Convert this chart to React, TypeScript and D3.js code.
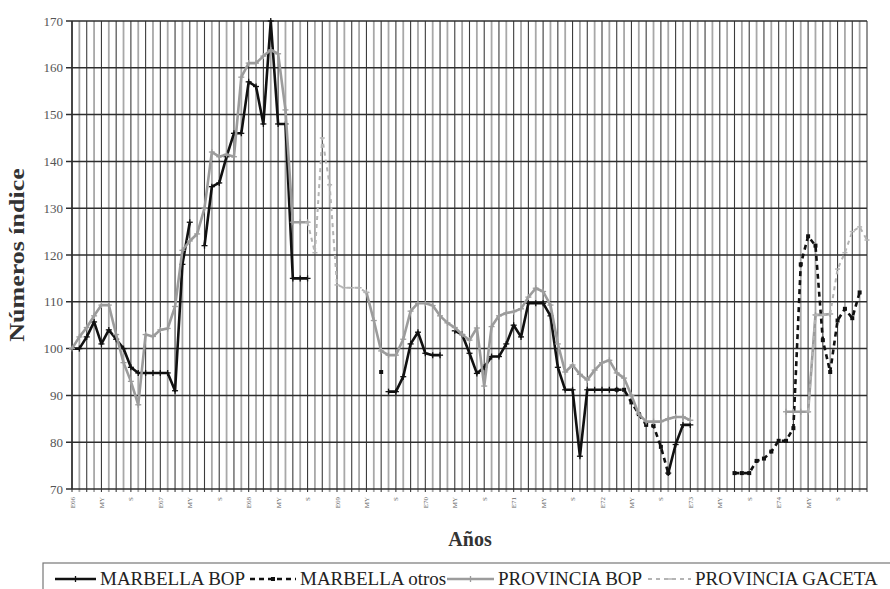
import React from "react";
import * as d3 from "d3";

// monthly index numbers, Jan 1866 .. Jan 1875 (one row = one year)
const _ = null;

const marbellaBop = [
  100, 100, 102.5, 105.7, 101, 104, 102, 100, 96, 94.8, 94.8, 94.8,
  94.8, 94.8, 91, 118, 127, _, 122, 134.6, 135.4, 141, 146, 146,
  157, 156, 148, 170, 148, 148, 115, 115, 115, _, _, _,
  _, _, _, _, _, _, _, 90.8, 90.8, 94, 101, 103.5,
  99, 98.6, 98.6, _, 103.8, 103, 99, 94.7, 96, 98.3, 98.3, 101,
  105, 102.5, 109.7, 109.7, 109.7, 107, 96, 91.2, 91.2, 77, 91.2, 91.2,
  91.2, 91.2, 91.2, _, _, _, _, _, _, 73.4, 79.5, 83.7,
  83.7, _, _, _, _, _, _, _, _, _, _, _,
  _, _, _, _, _, _, _, _, _, _, _, _,
  _,
];

const marbellaOtros = [
  _, _, _, _, _, _, _, _, _, _, _, _,
  _, _, _, _, _, _, _, _, _, _, _, _,
  _, _, _, _, _, _, _, _, _, _, _, _,
  _, _, _, _, _, _, 95, _, _, _, _, _,
  _, _, _, _, _, _, _, _, _, _, _, _,
  _, _, _, _, _, _, _, _, _, _, _, _,
  _, _, 91.2, 91.2, 88.5, 86, 83.7, 83.5, 79, 73.4, _, _,
  _, _, _, _, _, _, 73.4, 73.4, 73.4, 76, 76.5, 78,
  80.3, 80.3, 83, 118, 124, 122, 101.8, 95, 106, 108.5, 106.5, 112,
  _,
];

const provinciaBop = [
  100, 102.5, 104.5, 107, 109.3, 109.3, 103, 97, 93, 88, 103, 102.6,
  104, 104.3, 109, 121, 123, 124.5, 130, 142, 141, 141.5, 141, 158,
  161, 161, 162.5, 163.8, 163, 151, 127, 127, 127, _, _, _,
  _, _, _, _, 112, 106, 99.5, 98.6, 98.6, 102, 108, 109.7,
  109.7, 109.2, 107, 105.5, 104.5, 103, 101.8, 104.4, 92, 104.7, 107, 107.6,
  107.9, 108.5, 111, 112.9, 112.2, 109.3, 101, 95, 96.5, 94.5, 93.3, 95.4,
  97, 97.5, 94.8, 93.7, 90, 86, 84.4, 84.4, 84.4, 85, 85.4, 85.4,
  84.7, _, _, _, _, _, _, _, _, _, _, _,
  _, 86.5, 86.5, 86.5, 86.5, 107.2, 107.2, 107.4, _, _, _, _,
  _,
];

const provinciaGaceta = [
  _, _, _, _, _, _, _, _, _, _, _, _,
  _, _, _, _, _, _, _, _, _, _, _, _,
  _, _, _, _, _, _, _, _, 127, 120.5, 145, 135,
  113.6, 113, 113, 113, 112, _, _, _, _, _, _, _,
  _, _, _, _, _, _, _, _, _, _, _, _,
  _, _, _, _, _, _, _, _, _, _, _, _,
  _, _, _, _, _, _, _, _, _, _, _, _,
  _, _, _, _, _, _, _, _, _, _, _, _,
  _, _, _, _, 86.5, 107.2, 107.2, 107.4, 117, 120.5, 125, 126,
  123.2,
];

const tickLabels = [
  "E66", "MY", "S", "E67", "MY", "S", "E68", "MY", "S",
  "E69", "MY", "S", "E70", "MY", "S", "E71", "MY", "S",
  "E72", "MY", "S", "E73", "MY", "S", "E74", "MY", "S",
];
const yTicks = d3.range(70, 171, 10);

const W = 890;
const H = 589;
const FONT = "'Liberation Serif', 'Times New Roman', serif";

const x = d3.scaleLinear().domain([0, 108]).range([72, 867]);
const y = d3.scaleLinear().domain([70, 170]).range([489, 21]);

const series = [
  { name: "MARBELLA BOP", data: marbellaBop, color: "#111", width: 2.6, dash: null, mark: "plus" },
  { name: "MARBELLA otros", data: marbellaOtros, color: "#111", width: 2.6, dash: "5,4", mark: "square" },
  { name: "PROVINCIA BOP", data: provinciaBop, color: "#9c9c9c", width: 2.6, dash: null, mark: "plus" },
  { name: "PROVINCIA GACETA", data: provinciaGaceta, color: "#b4b4b4", width: 2, dash: "4,4", mark: "dash" },
];

const line = d3
  .line<number | null>()
  .defined((d) => d != null)
  .x((d, i) => x(i))
  .y((d) => y(d as number));

function Marker({ cx, cy, type, color }: { cx: number; cy: number; type: string; color: string }) {
  if (type === "square") return <rect x={cx - 2} y={cy - 2} width={4} height={4} fill={color} />;
  if (type === "dash") return <line x1={cx - 2.5} x2={cx + 2.5} y1={cy} y2={cy} stroke={color} strokeWidth={1.5} />;
  return (
    <g stroke={color} strokeWidth={1.3}>
      <line x1={cx - 3} x2={cx + 3} y1={cy} y2={cy} />
      <line x1={cx} x2={cx} y1={cy - 3} y2={cy + 3} />
    </g>
  );
}

const legendItems = [
  { s: series[0], x0: 55, tx: 100 },
  { s: series[1], x0: 250, tx: 300 },
  { s: series[2], x0: 447, tx: 498 },
  { s: series[3], x0: 648, tx: 695 },
];

export default function App() {
  const months = d3.range(109);
  const [x0, x1] = x.range();
  const [y0, y1] = y.range();

  return (
    <svg width={W} height={H} style={{ position: "absolute", left: 0, top: 0, background: "#fff" }} fontFamily={FONT}>
      <rect width={W} height={H} fill="#fff" />

      {/* vertical month gridlines, dark and light in turn */}
      {months.map((m) => (
        <line
          key={"v" + m}
          x1={x(m)}
          x2={x(m)}
          y1={y1}
          y2={y0 + 3}
          stroke={m % 2 === 0 ? "#3c3c3c" : "#a8a8a8"}
          strokeWidth={m % 2 === 0 ? 1.1 : 1.8}
        />
      ))}
      {/* horizontal gridlines */}
      {yTicks.map((t) => (
        <line key={"h" + t} x1={x0 - 6} x2={x1} y1={y(t)} y2={y(t)} stroke="#2e2e2e" strokeWidth={1.5} />
      ))}
      <line x1={x0} x2={x0} y1={y1} y2={y0} stroke="#2e2e2e" strokeWidth={1.5} />

      {/* y tick labels */}
      {yTicks.map((t) => (
        <text key={"yl" + t} x={63} y={y(t)} dy="0.35em" textAnchor="end" fontSize={13} fill="#555">
          {t}
        </text>
      ))}

      {/* x tick labels, every four months */}
      {tickLabels.map((lab, k) => (
        <text
          key={"xl" + k}
          transform={`translate(${x(k * 4) + 2.5},${y0 + 8}) rotate(-90)`}
          textAnchor="end"
          fontSize={7}
          fill="#666"
        >
          {lab}
        </text>
      ))}

      {/* series */}
      {series.map((s) => (
        <g key={s.name}>
          <path
            d={line(s.data) || ""}
            fill="none"
            stroke={s.color}
            strokeWidth={s.width}
            strokeDasharray={s.dash || undefined}
            strokeLinejoin="round"
          />
          {s.data.map((v, i) =>
            v == null ? null : <Marker key={i} cx={x(i)} cy={y(v)} type={s.mark} color={s.color} />
          )}
        </g>
      ))}

      {/* axis titles */}
      <text
        transform={`translate(24,${(y0 + y1) / 2}) rotate(-90) scale(1.3,1)`}
        textAnchor="middle"
        fontSize={20}
        fontWeight="bold"
        fill="#333"
      >
        Números índice
      </text>
      <text x={470} y={546} textAnchor="middle" fontSize={20} fontWeight="bold" fill="#333">
        Años
      </text>

      {/* legend */}
      <rect x={43} y={563} width={860} height={40} fill="#fff" stroke="#777" strokeWidth={1.2} />
      {legendItems.map(({ s, x0: lx, tx }) => (
        <g key={"lg" + s.name}>
          <line
            x1={lx}
            x2={tx - 4}
            y1={579}
            y2={579}
            stroke={s.color}
            strokeWidth={s.width}
            strokeDasharray={s.dash || undefined}
          />
          <Marker cx={(lx + tx - 4) / 2} cy={579} type={s.mark} color={s.color} />
          <text x={tx} y={585} fontSize={19} fill="#222">
            {s.name}
          </text>
        </g>
      ))}
    </svg>
  );
}
